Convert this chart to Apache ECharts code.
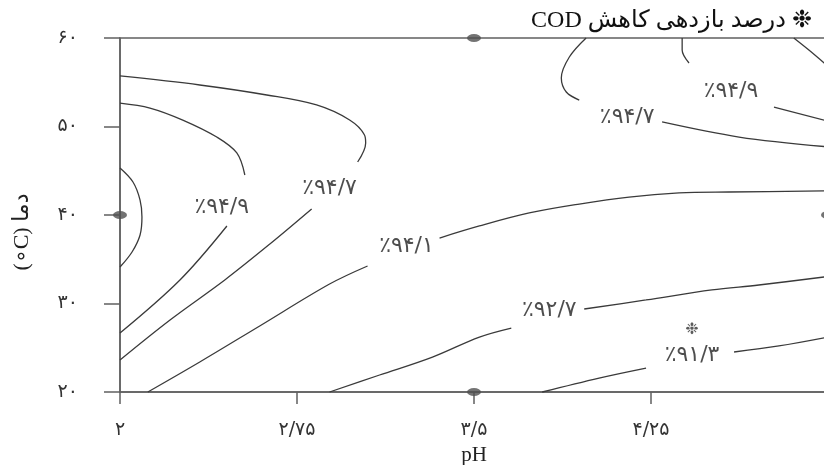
<!DOCTYPE html>
<html>
<head>
<meta charset="utf-8">
<script src="https://cdn.jsdelivr.net/npm/echarts@6/dist/echarts.min.js"></script>
<style>html,body{margin:0;padding:0;background:#fff;}#chart{width:824px;height:465px;}</style>
</head>
<body>
<div id="chart"></div>
<script>
// ---- axis ranges and tick labels ----
const PH_MIN = 2, PH_MAX = 5, PH_STEP = 0.75;
const T_MIN = 20, T_MAX = 60, T_STEP = 10;
const xTickLabels = ['۲', '۲/۷۵', '۳/۵', '۴/۲۵', '۵'];
const yTickLabels = ['۲۰', '۳۰', '۴۰', '۵۰', '۶۰'];

// ---- contour lines [pH, temperature] ----
const c949LeftLower = [[2.0,26.67],[2.254,32.66],[2.453,38.76]];
const c949LeftUpper = [[2.529,44.52],[2.495,47.01],[2.410,48.81],[2.266,50.73],[2.127,52.09],[2.0,52.65]];
const c947LeftLower = [[2.0,23.62],[2.212,28.14],[2.444,32.66],[2.635,36.72],[2.812,40.68]];
const c947LeftUpper = [[3.007,45.99],[3.041,48.14],[3.036,49.04],[2.973,50.73],[2.833,52.43],[2.622,53.56],[2.338,54.69],[2.0,55.71]];
const cLeftArc = [[2.0,45.31],[2.055,43.73],[2.085,41.69],[2.093,39.77],[2.085,37.74],[2.051,35.82],[2.0,34.12]];
const c941Lower = [[2.118,20.0],[2.338,23.39],[2.592,27.46],[2.888,32.20],[3.049,34.24]];
const c941Upper = [[3.354,37.40],[3.523,38.76],[3.734,40.23],[3.946,41.24],[4.157,42.03],[4.369,42.49],[4.580,42.60],[5.0,42.72]];
const c927Lower = [[2.888,20.0],[3.100,21.92],[3.324,23.95],[3.523,26.21],[3.658,27.23]];
const c927Upper = [[3.967,29.38],[4.229,30.40],[4.508,31.53],[4.707,32.09],[5.0,33.05]];
const c913Lower = [[3.789,20.0],[4.030,21.58],[4.229,22.71]];
const c913Upper = [[4.602,24.52],[4.792,25.20],[5.0,26.2]];
const c947RightUpper = [[3.975,60.0],[3.904,57.85],[3.870,55.48],[3.891,53.90],[3.946,52.99]];
const c947RightLower = [[4.297,50.51],[4.623,48.81],[5.0,47.7]];
const c949RightUpper = [[4.382,60.0],[4.382,58.64],[4.411,57.18]];
const c949RightLower = [[4.771,52.20],[5.0,50.6]];
const cCorner = [[4.855,60.0],[4.919,58.64],[5.0,56.8]];

const contourSegments = [c949LeftLower, c949LeftUpper, c947LeftLower, c947LeftUpper, cLeftArc,
  c941Lower, c941Upper, c927Lower, c927Upper, c913Lower, c913Upper,
  c947RightUpper, c947RightLower, c949RightUpper, c949RightLower, cCorner];

// ---- contour labels ----
const labelTexts = ['٪۹۴/۹', '٪۹۴/۷', '٪۹۴/۱', '٪۹۲/۷', '٪۹۱/۳', '٪۹۴/۷', '٪۹۴/۹'];
const labelPH    = [2.431, 2.888, 3.214, 3.819, 4.424, 4.149, 4.589];
const labelT     = [40.90, 43.05, 36.50, 29.27, 24.18, 51.07, 54.01];

// ---- design points and optimum marker ----
const designPH = [2, 3.5, 3.5, 5];
const designT  = [40, 60, 20, 40];
const optimumPH = [4.424];
const optimumT  = [27.0];

const titleText = '\u202B❉ درصد بازدهی کاهش COD\u202C';
const yNameText = '(∘C) دما';
const xNameText = 'pH';

const sx = p => +(p - PH_MIN).toFixed(4);

const series = contourSegments.map(seg => ({
  type: 'line',
  data: seg.map(p => [sx(p[0]), p[1]]),
  smooth: 0.35,
  showSymbol: false,
  symbol: 'none',
  silent: true,
  clip: false,
  lineStyle: { color: '#3a3a3a', width: 1.3 },
  z: 3
}));

series.push({
  type: 'scatter',
  data: labelTexts.map((t, i) => ({ name: t, value: [sx(labelPH[i]), labelT[i]] })),
  symbolSize: 0,
  silent: true,
  label: {
    show: true, position: 'inside',
    formatter: p => p.name,
    fontFamily: 'DejaVu Sans', fontSize: 22, color: '#222', fontWeight: 'normal'
  },
  z: 4
});

series.push({
  type: 'scatter',
  data: designPH.map((p, i) => [sx(p), designT[i]]),
  symbol: 'path://M0 4A7 4 0 1 0 14 4A7 4 0 1 0 0 4Z',
  symbolSize: [14, 8],
  itemStyle: { color: '#505050' },
  silent: true,
  clip: false,
  z: 5
});

series.push({
  type: 'scatter',
  data: optimumPH.map((p, i) => [sx(p), optimumT[i]]),
  symbolSize: 0,
  silent: true,
  label: { show: true, position: 'inside', formatter: '❉', fontFamily: 'DejaVu Sans', fontSize: 16, color: '#333' },
  z: 5
});

const chart = echarts.init(document.getElementById('chart'), null, { renderer: 'canvas' });
chart.setOption({
  backgroundColor: '#fff',
  animation: false,
  grid: { left: 120, right: -4, top: 38, bottom: 73, outerBoundsMode: 'none', containLabel: false,
    show: true, borderColor: '#606060', borderWidth: 1.5, backgroundColor: 'transparent' },
  xAxis: {
    type: 'value', min: 0, max: PH_MAX - PH_MIN, interval: PH_STEP,
    name: xNameText, nameLocation: 'middle', nameGap: 50,
    nameTextStyle: { fontFamily: 'Liberation Serif', fontSize: 21, color: '#222' },
    axisLine: { show: true, lineStyle: { color: '#606060', width: 1.5 } },
    axisTick: { show: true, length: 12, lineStyle: { color: '#606060', width: 1.5 } },
    axisLabel: {
      margin: 29, fontFamily: 'DejaVu Sans', fontSize: 19, color: '#333',
      formatter: v => xTickLabels[Math.round(v / PH_STEP)] || ''
    },
    splitLine: { show: false }
  },
  yAxis: {
    type: 'value', min: T_MIN, max: T_MAX, interval: T_STEP,
    axisLine: { show: true, lineStyle: { color: '#606060', width: 1.5 } },
    axisTick: { show: true, length: 16, lineStyle: { color: '#606060', width: 1.5 } },
    axisLabel: {
      margin: 42, fontFamily: 'DejaVu Sans', fontSize: 19, color: '#333',
      formatter: v => yTickLabels[Math.round((v - T_MIN) / T_STEP)] || ''
    },
    splitLine: { show: false }
  },
  graphic: [
    { type: 'text', x: 812, y: 21, silent: true,
      style: { text: titleText, align: 'right', verticalAlign: 'middle',
        font: '24px "Liberation Serif", "DejaVu Sans"', fill: '#111' } },
    { type: 'text', x: 22, y: 232, rotation: Math.PI / 2, silent: true,
      style: { text: yNameText, align: 'center', verticalAlign: 'middle',
        font: '22px "Liberation Serif", "DejaVu Sans"', fill: '#222' } }
  ],
  series: series
});
</script>
</body>
</html>
